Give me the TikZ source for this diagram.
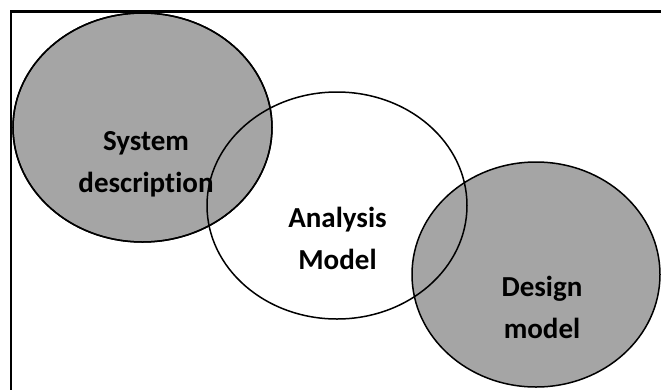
\documentclass[tikz,border=0pt]{standalone}
\usepackage{fontspec}
\setmainfont{Carlito}[Ligatures=NoCommon]
\usetikzlibrary{shapes.geometric}
\definecolor{fillgray}{RGB}{165,165,165}
\tikzset{
  blob/.style={ellipse, draw=black, line width=1.5pt, inner sep=0pt},
  greyblob/.style={blob, fill=fillgray},
  label/.style={align=center, inner sep=0pt,
    font=\fontsize{29}{42}\selectfont\bfseries}
}
\begin{document}
\begin{tikzpicture}[x=1pt, y=-1pt]
  \useasboundingbox (0,0) rectangle (661,389);
  % outer frame, cut off at the right and bottom edges
  \begin{scope}
    \clip (0,0) rectangle (661,389);
    \draw[line width=2.4pt] (10.8,11.5) rectangle (700,420);
  \end{scope}
  % filled ellipses
  \node[greyblob, minimum width=259pt, minimum height=229pt] (sys) at (142.5,127.5) {};
  \node[greyblob, minimum width=248pt, minimum height=225pt] (des) at (536,274.5) {};
  % outlines on top so every crossing stays visible
  \node[blob, minimum width=259pt, minimum height=229pt] (sysline) at (142.5,127.5) {};
  \node[blob, minimum width=260pt, minimum height=227pt] (ana) at (337,205.5) {};
  % labels
  \node[label] (systxt) at (146,164.5) {System\\description};
  \node[label] (anatxt) at (337.5,238.5) {Analysis\\Model};
  \node[label] (destxt) at (542,307.5) {Design\\model};
\end{tikzpicture}
\end{document}
